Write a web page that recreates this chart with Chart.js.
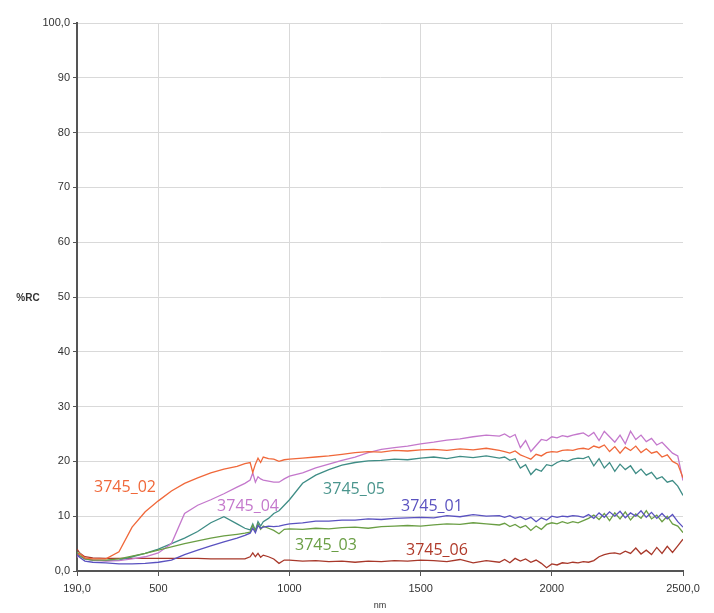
<!DOCTYPE html>
<html>
<head>
<meta charset="utf-8">
<script src="https://cdn.jsdelivr.net/npm/chart.js@4"></script>
<style>
  html, body { margin: 0; padding: 0; background: #fff; }
  #wrap { width: 714px; height: 613px; }
</style>
</head>
<body>
<div id="wrap"><canvas id="spectra" width="714" height="613"></canvas></div>
<script>
// wavelengths (nm) shared by every curve
const nm = [190,200,220,250,300,350,400,450,500,550,600,650,700,750,800,830,850,860,870,880,890,900,920,940,960,980,
  1000,1050,1100,1150,1200,1250,1300,1350,1400,1450,1500,1550,1600,1650,1700,1750,1800,
  1820,1840,1860,1880,1900,1920,1940,1960,1980,2000,2020,2040,2060,2080,2100,2120,2140,2160,2180,2200,2220,2240,2260,2280,2300,2320,2340,2360,2380,2400,2420,2440,2460,2480,2500];

const s3745_01 = [3,2.5,1.8,1.6,1.5,1.3,1.3,1.4,1.6,2,3,3.8,4.6,5.3,6,6.5,6.9,7.8,7,8.3,7.8,8,8.2,8.1,8.2,8.4,
  8.6,8.8,9.1,9.1,9.3,9.3,9.5,9.4,9.6,9.7,9.8,9.7,10.1,9.9,10.3,10,10.1,
  9.8,10.1,9.6,9.9,9.4,9.8,9,9.7,9.3,10,9.8,10,9.9,10.1,10,9.8,10.3,9.6,10.6,9.8,10.8,10,10.9,9.7,10.6,10,11,9.8,10.7,9.6,10.5,9.5,10.3,9,8];

const s3745_02 = [2.8,3.2,2.4,2.2,2.2,3.5,8,10.8,12.8,14.6,16,17,17.9,18.6,19.1,19.6,19.8,18,19.5,20.6,19.8,20.8,20.5,20.4,20,20.3,
  20.4,20.6,20.8,21,21.3,21.6,21.8,21.7,22,21.9,22.1,22.2,22,22.3,22.1,22.4,22,
  21.8,21.5,21.9,21.2,20.8,20.4,21.3,21,21.6,21.8,21.7,22,22.1,22,22.3,22.4,22.2,22.8,22.5,23,21.8,22.7,21.5,22.6,22,22.8,21.6,22.3,21.5,21.8,20.8,21.2,20,19.5,17];

const s3745_03 = [3.5,2.8,2.2,2,2,2.2,2.7,3.2,3.8,4.4,5,5.5,6,6.4,6.7,6.9,7.1,8.3,7.2,8.6,7.6,8.2,7.8,7.4,6.8,7.6,
  7.7,7.6,7.8,7.7,7.9,8,7.8,8.1,8.2,8.3,8.2,8.4,8.6,8.5,8.8,8.6,8.4,
  8.7,8.1,8.5,7.9,8.3,7.4,8.2,7.6,8.5,8.8,8.6,9,8.7,9,8.8,9.2,9.6,10.2,9.4,10.5,9.2,10.6,9.5,10.8,9.3,10.4,9.6,11,9.5,10.2,9,10,8.6,8.2,7];

const s3745_04 = [2.5,2.8,2.2,2,1.8,1.9,2.2,2.6,3.3,5,10.5,12,13,14.1,15.3,16,16.6,17.9,16.2,17.2,16.8,16.6,16.4,16.2,16.2,16.8,
  17.3,17.9,18.8,19.5,20.2,20.8,21.6,22.2,22.5,22.8,23.2,23.5,23.9,24.1,24.5,24.8,24.6,
  25,24.4,24.9,22.5,23.8,21.8,22.9,24,23.8,24.5,24.3,24.7,24.5,24.8,25,25.2,24.6,25.3,23.8,25.5,24.5,23.5,24.8,23.2,25.5,24,24.8,23.6,24.2,23,23.5,22.5,21.5,21,16.5];

const s3745_05 = [3,3.3,2.2,2,1.9,2,2.6,3.2,4,5,6,7.2,8.8,9.9,8.6,7.8,7.5,8.6,7.4,9,8.2,9,9.6,10.5,11,12,
  13,16,17.5,18.5,19.3,19.8,20.1,20.2,20.4,20.3,20.6,20.8,20.5,20.9,20.7,21,20.6,
  20.8,20.2,20.5,18.8,19.4,17.6,18.6,18.2,19.4,19.2,19.8,20.2,20,20.4,20.6,20.5,20.9,19.2,20.5,18.8,19.8,18.2,19.5,18.5,19.2,17.8,18.6,17.5,18,16.8,17.2,16.2,16.5,15.5,13.8];

const s3745_06 = [4,3.3,2.6,2.4,2.3,2.3,2.3,2.3,2.3,2.3,2.3,2.3,2.2,2.2,2.2,2.2,2.6,3.3,2.6,3.2,2.5,2.9,2.6,2.2,1.4,2,
  2,1.8,1.9,1.7,1.8,1.6,1.8,1.7,1.9,1.8,2,1.9,1.7,2.1,1.5,1.9,1.6,
  2.1,1.5,2.3,1.8,2.2,1.6,2,1.4,0.6,1.3,1.1,1.5,1.4,1.6,1.5,1.7,1.6,1.9,2.6,3,3.2,3.3,3.1,3.6,3.2,4.2,3.1,3.8,3,4.3,3.2,4.5,3.4,4.6,5.8];

const xTicks = [190, 500, 1000, 1500, 2000, 2500];
const xTickLabels = ['190,0', '500', '1000', '1500', '2000', '2500,0'];
const yTickLabels = ['0,0', '10', '20', '30', '40', '50', '60', '70', '80', '90', '100,0'];

const series = [
  { name: '3745_01', values: s3745_01, color: '#5a52c0' },
  { name: '3745_02', values: s3745_02, color: '#f0683a' },
  { name: '3745_03', values: s3745_03, color: '#6a9e44' },
  { name: '3745_04', values: s3745_04, color: '#c478cc' },
  { name: '3745_05', values: s3745_05, color: '#3f8d86' },
  { name: '3745_06', values: s3745_06, color: '#a8382a' }
];

// where each curve name sits, in data units (nm, %RC)
const curveLabels = [
  { name: '3745_02', x: 373, y: 15.3, color: '#f0683a' },
  { name: '3745_04', x: 842, y: 11.7, color: '#c478cc' },
  { name: '3745_05', x: 1246, y: 14.8, color: '#4a958d' },
  { name: '3745_01', x: 1543, y: 11.7, color: '#5a52c0' },
  { name: '3745_03', x: 1139, y: 4.6, color: '#6a9e44' },
  { name: '3745_06', x: 1562, y: 3.8, color: '#b03a2a' }
];

const labelPlugin = {
  id: 'curveLabels',
  afterDatasetsDraw(chart) {
    const { ctx, scales } = chart;
    ctx.save();
    ctx.font = '16px "Open Sans", sans-serif';
    ctx.textAlign = 'center';
    ctx.textBaseline = 'middle';
    curveLabels.forEach(l => {
      ctx.fillStyle = l.color;
      ctx.fillText(l.name, scales.x.getPixelForValue(l.x), scales.y.getPixelForValue(l.y));
    });
    // y axis name, written flat next to the axis
    ctx.fillStyle = '#333';
    ctx.font = 'bold 10px "Liberation Sans", Arial, sans-serif';
    ctx.fillText('%RC', 28, scales.y.getPixelForValue(49.8));
    ctx.restore();
  }
};

const gridGrey = '#d9d9d9';
const axisGrey = '#555';

new Chart(document.getElementById('spectra'), {
  type: 'line',
  data: {
    datasets: series.map(s => ({
      label: s.name,
      data: nm.map((x, i) => ({ x: x, y: s.values[i] })),
      borderColor: s.color,
      borderWidth: 1.3,
      pointRadius: 0,
      tension: 0,
      fill: false
    }))
  },
  options: {
    responsive: false,
    animation: false,
    layout: { padding: { left: 0, right: 31, top: 23, bottom: 0 } },
    plugins: { legend: { display: false }, tooltip: { enabled: false } },
    scales: {
      x: {
        type: 'linear',
        min: 190,
        max: 2500,
        afterBuildTicks: scale => { scale.ticks = xTicks.map(v => ({ value: v })); },
        afterFit: scale => { scale.height = 42; },
        ticks: {
          autoSkip: false,
          maxRotation: 0,
          padding: 6,
          color: '#333',
          font: { family: '"Liberation Sans", Arial, sans-serif', size: 11 },
          callback: v => xTickLabels[xTicks.indexOf(v)]
        },
        grid: {
          color: c => (c.tick && (c.tick.value === 190 || c.tick.value === 2500)) ? 'rgba(0,0,0,0)' : gridGrey,
          tickColor: axisGrey,
          tickLength: 5
        },
        border: { color: axisGrey, width: 2 },
        title: {
          display: true,
          text: 'nm',
          color: '#333',
          font: { family: '"Liberation Sans", Arial, sans-serif', size: 9 },
          padding: { top: 0, bottom: 2 }
        }
      },
      y: {
        min: 0,
        max: 100,
        afterFit: scale => { scale.width = 77; },
        ticks: {
          stepSize: 10,
          padding: 3,
          color: '#333',
          font: { family: '"Liberation Sans", Arial, sans-serif', size: 11 },
          callback: (v, i) => yTickLabels[i]
        },
        grid: {
          color: c => (c.tick && c.tick.value === 0) ? 'rgba(0,0,0,0)' : gridGrey,
          tickColor: axisGrey,
          tickLength: 4
        },
        border: { color: axisGrey, width: 2 }
      }
    }
  },
  plugins: [labelPlugin]
});
</script>
</body>
</html>
